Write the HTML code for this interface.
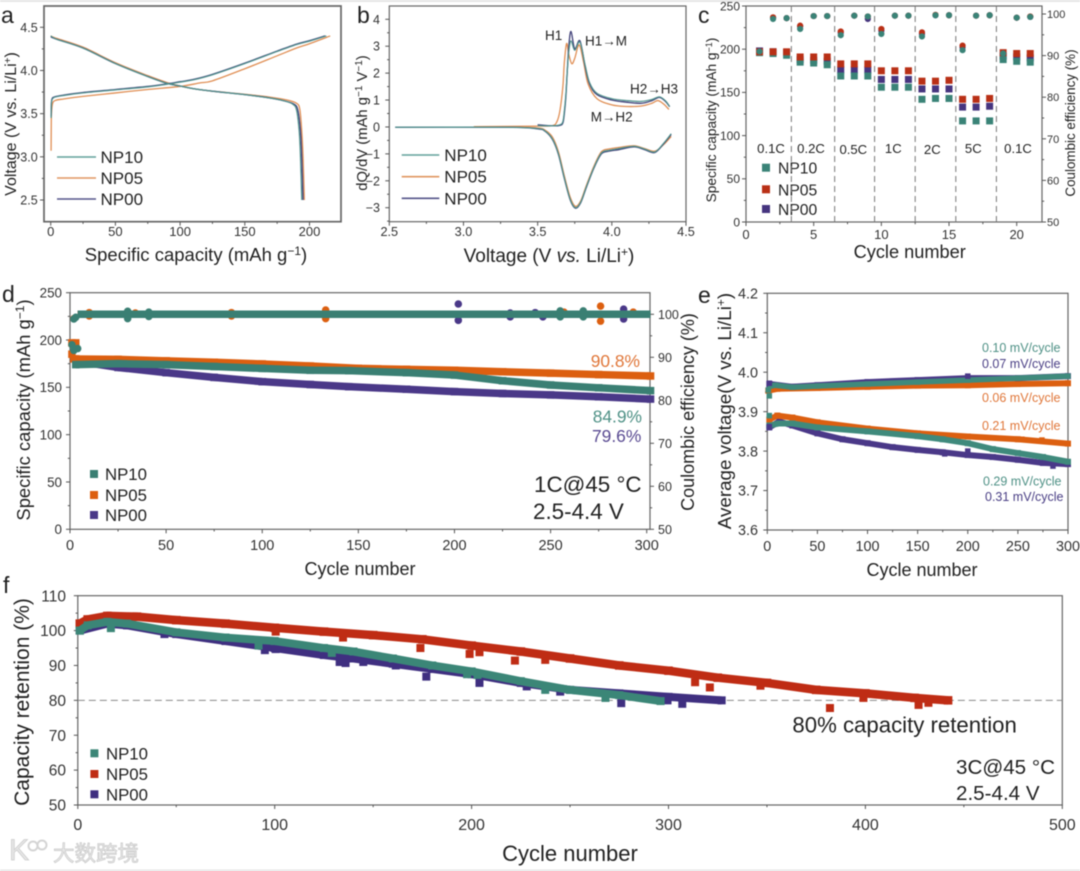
<!DOCTYPE html>
<html>
<head>
<meta charset="utf-8">
<title>Battery electrochemical performance panels</title>
<style>
html,body{margin:0;padding:0;background:#fff;}
svg{display:block;font-family:"Liberation Sans","Noto Sans CJK SC",sans-serif;filter:blur(0.45px);}
text{fill:#222;}
</style>
</head>
<body>
<svg id="figure" xmlns="http://www.w3.org/2000/svg" width="1080" height="871" viewBox="0 0 1080 871">
<rect x="0" y="0" width="1080" height="871" fill="#fff"/>
<rect x="0" y="0" width="1080" height="2" fill="#e6e6e6"/>
<rect x="0" y="869.5" width="1080" height="1.5" fill="#e6e6e6"/>

<g id="panel-a">
  <text x="1" y="23" font-size="23">a</text>
  <text transform="rotate(-90 16 124)" x="16" y="124" text-anchor="middle" font-size="16">Voltage (V vs. Li/Li<tspan dy="-5" font-size="10">+</tspan><tspan dy="5">)</tspan></text>
  <text x="196" y="261" text-anchor="middle" font-size="18.5">Specific capacity (mAh g<tspan dy="-6" font-size="12">−1</tspan><tspan dy="6">)</tspan></text>
  <g>
    <line x1="57" x2="96" y1="157" y2="157" stroke="#62a09a" stroke-width="1.6"/>
    <text x="100.5" y="163" font-size="17">NP10</text>
    <line x1="57" x2="96" y1="178" y2="178" stroke="#e09660" stroke-width="1.6"/>
    <text x="100.5" y="184" font-size="17">NP05</text>
    <line x1="57" x2="96" y1="199" y2="199" stroke="#55558a" stroke-width="1.6"/>
    <text x="100.5" y="205" font-size="17">NP00</text>
  </g>
</g>

<g id="panel-b">
  <text x="357" y="23" font-size="23">b</text>
  <text transform="rotate(-90 367 123)" x="367" y="123" text-anchor="middle" font-size="14.8">dQ/dV (mAh g<tspan dy="-5" font-size="10">−1</tspan><tspan dy="5"> V</tspan><tspan dy="-5" font-size="10">−1</tspan><tspan dy="5">)</tspan></text>
  <text x="549" y="262" text-anchor="middle" font-size="19">Voltage (V <tspan font-style="italic">vs.</tspan> Li/Li<tspan dy="-6" font-size="12">+</tspan><tspan dy="6">)</tspan></text>
  <text x="545" y="40" font-size="13.5">H1</text>
  <text x="585" y="45.7" font-size="13.5">H1→M</text>
  <text x="630" y="93.3" font-size="13.5">H2→H3</text>
  <text x="590.7" y="121.7" font-size="13.5">M→H2</text>
  <g>
    <line x1="401.7" x2="439.3" y1="155" y2="155" stroke="#62a09a" stroke-width="1.6"/>
    <text x="444.3" y="161" font-size="17">NP10</text>
    <line x1="401.7" x2="439.3" y1="176.7" y2="176.7" stroke="#e09660" stroke-width="1.6"/>
    <text x="444.3" y="182.7" font-size="17">NP05</text>
    <line x1="401.7" x2="439.3" y1="198.3" y2="198.3" stroke="#55558a" stroke-width="1.6"/>
    <text x="444.3" y="204.3" font-size="17">NP00</text>
  </g>
</g>

<g id="panel-c">
  <text x="698" y="23" font-size="23">c</text>
  <text transform="rotate(-90 716 120)" x="716" y="120" text-anchor="middle" font-size="13.7">Specific capacity (mAh g<tspan dy="-4" font-size="9">−1</tspan><tspan dy="4">)</tspan></text>
  <text transform="rotate(-90 1075 123)" x="1075" y="123" text-anchor="middle" font-size="13.4">Coulombic efficiency (%)</text>
  <text x="909.7" y="258" text-anchor="middle" font-size="18.2">Cycle number</text>
  <g font-size="13.1" text-anchor="middle">
    <text x="771" y="153">0.1C</text>
    <text x="811" y="153">0.2C</text>
    <text x="853.3" y="154">0.5C</text>
    <text x="893.3" y="153">1C</text>
    <text x="932.3" y="154">2C</text>
    <text x="973.3" y="153">5C</text>
    <text x="1018" y="153">0.1C</text>
  </g>
  <g>
    <rect x="762" y="163.7" width="8" height="8" fill="#3a8377"/>
    <text x="778" y="173.7" font-size="15.7">NP10</text>
    <rect x="762" y="185.3" width="8" height="8" fill="#b93016"/>
    <text x="778" y="195.3" font-size="15.7">NP05</text>
    <rect x="762" y="205" width="8" height="8" fill="#46357f"/>
    <text x="778" y="215" font-size="15.7">NP00</text>
  </g>
</g>

<g id="panel-d">
  <text x="2" y="302" font-size="23">d</text>
  <text transform="rotate(-90 30 410)" x="30" y="410" text-anchor="middle" font-size="18.4">Specific capacity (mAh g<tspan dy="-6" font-size="12">−1</tspan><tspan dy="6">)</tspan></text>
  <text transform="rotate(-90 694 412)" x="694" y="412" text-anchor="middle" font-size="18">Coulombic efficiency (%)</text>
  <text x="360" y="575" text-anchor="middle" font-size="18">Cycle number</text>
  <text x="590.7" y="367" font-size="17.4" style="fill:#e0773a">90.8%</text>
  <text x="592.7" y="422.7" font-size="17.4" style="fill:#4f9186">84.9%</text>
  <text x="592" y="442" font-size="17.4" style="fill:#5a4b92">79.6%</text>
  <text x="534" y="492" font-size="22.4">1C@45 °C</text>
  <text x="533" y="519" font-size="22.4">2.5-4.4 V</text>
  <g>
    <rect x="90" y="470" width="8" height="8" fill="#3a7f73"/>
    <text x="105" y="480" font-size="16.8">NP10</text>
    <rect x="90" y="491" width="8" height="8" fill="#dc5f10"/>
    <text x="105" y="501" font-size="16.8">NP05</text>
    <rect x="90" y="511" width="8" height="8" fill="#4a3888"/>
    <text x="105" y="521" font-size="16.8">NP00</text>
  </g>
</g>

<g id="panel-e">
  <text x="698" y="303" font-size="23">e</text>
  <text transform="rotate(-90 731 411)" x="731" y="411" text-anchor="middle" font-size="18.8">Average voltage(V vs. Li/Li<tspan dy="-6" font-size="12">+</tspan><tspan dy="6">)</tspan></text>
  <text x="922" y="576" text-anchor="middle" font-size="18">Cycle number</text>
  <g font-size="12.5">
    <text x="982" y="352" style="fill:#4f9186">0.10 mV/cycle</text>
    <text x="982" y="368" style="fill:#4a3f85">0.07 mV/cycle</text>
    <text x="982" y="402" style="fill:#e0773a">0.06 mV/cycle</text>
    <text x="982" y="430" style="fill:#e0773a">0.21 mV/cycle</text>
    <text x="983" y="485.7" style="fill:#4f9186">0.29 mV/cycle</text>
    <text x="985" y="501" style="fill:#4a3f85">0.31 mV/cycle</text>
  </g>
</g>

<g id="panel-f">
  <text x="3" y="593" font-size="23">f</text>
  <text transform="rotate(-90 29 702)" x="29" y="702" text-anchor="middle" font-size="21">Capacity retention (%)</text>
  <text x="570" y="861" text-anchor="middle" font-size="22">Cycle number</text>
  <text x="792.4" y="732.7" font-size="22.2">80% capacity retention</text>
  <text x="956" y="774" font-size="20.6">3C@45 °C</text>
  <text x="956" y="800" font-size="20.6">2.5-4.4 V</text>
  <g>
    <rect x="90.4" y="749.3" width="8" height="8" fill="#3b8677"/>
    <text x="106" y="759.3" font-size="16.8">NP10</text>
    <rect x="90.4" y="770" width="8" height="8" fill="#bf2c14"/>
    <text x="106" y="780" font-size="16.8">NP05</text>
    <rect x="90.4" y="790.3" width="8" height="8" fill="#3f2f80"/>
    <text x="106" y="800.3" font-size="16.8">NP00</text>
  </g>
</g>

<g opacity="0.9">
  <text x="9" y="860" font-size="30" style="fill:#e4e4e4;stroke:#c8c8c8;stroke-width:0.8">K</text>
  <circle cx="33" cy="846" r="4.5" fill="none" stroke="#d0d0d0" stroke-width="2"/>
  <circle cx="42" cy="845" r="4.5" fill="none" stroke="#d0d0d0" stroke-width="2"/>
  <text x="53" y="861" font-size="21.5" style="fill:#e8e8e8;stroke:#c4c4c4;stroke-width:0.7;font-family:'Liberation Sans','Noto Sans CJK SC',sans-serif">大数跨境</text>
</g>
</svg>

<script>
// ---------- Panel a: charge / discharge profiles ----------
const aCapCharge10 = [0.3,0.5,1,3,10,25,50,75,90,100,110,125,150,175,190,200,213];
const aVCharge10   = [3.45,3.6,3.66,3.69,3.71,3.74,3.775,3.81,3.84,3.865,3.89,3.95,4.08,4.22,4.30,4.34,4.40];
const aCapCharge05 = [0.3,0.4,0.6,1.5,4,10,25,50,75,100,115,125,150,175,190,200,216];
const aVCharge05   = [3.07,3.3,3.5,3.62,3.655,3.67,3.7,3.74,3.78,3.815,3.855,3.88,4.02,4.17,4.26,4.31,4.40];
const aCapCharge00 = [0.3,0.5,1,3,10,25,50,75,90,100,110,125,150,175,190,200,212];
const aVCharge00   = [3.47,3.6,3.67,3.695,3.715,3.745,3.78,3.815,3.845,3.87,3.895,3.955,4.085,4.225,4.305,4.345,4.40];
const aCapDis10 = [0,5,25,50,75,90,100,110,125,150,170,180,187,190,192,193,194];
const aVDis10   = [4.40,4.36,4.26,4.08,3.93,3.85,3.82,3.79,3.76,3.72,3.68,3.65,3.61,3.54,3.3,3.0,2.5];
const aCapDis05 = [0,5,25,50,75,90,100,110,125,150,170,182,190,192.5,194,195,196];
const aVDis05   = [4.40,4.37,4.27,4.09,3.94,3.86,3.82,3.79,3.76,3.725,3.69,3.66,3.62,3.55,3.3,3.0,2.5];
const aCapDis00 = [0,5,25,50,75,90,100,110,125,150,170,180,188,191,193,194,195];
const aVDis00   = [4.39,4.36,4.26,4.08,3.93,3.85,3.82,3.79,3.76,3.72,3.68,3.65,3.61,3.54,3.3,3.0,2.5];
const aXTicks = [0,50,100,150,200];
const aXTickLabels = ['0','50','100','150','200'];
const aXMinor = [25,75,125,175];
const aYTicks = [2.5,3.0,3.5,4.0,4.5];
const aYTickLabels = ['2.5','3.0','3.5','4.0','4.5'];
const aYMinor = [2.75,3.25,3.75,4.25];

// ---------- Panel b: dQ/dV curves ----------
const bVAnodic10 = [3.5,3.6,3.65,3.67,3.68,3.69,3.70,3.71,3.725,3.75,3.785,3.82,3.85,3.9,4.0,4.1,4.2,4.27,4.32,4.36,4.39];
const bQAnodic10 = [0.05,0.04,0.08,0.2,0.6,1.2,2.1,2.8,3.2,2.85,3.15,2.3,1.65,1.25,1.05,0.98,0.95,1.02,1.12,0.98,0.76];
const bVAnodic05 = [3.07,3.5,3.6,3.63,3.65,3.67,3.68,3.695,3.71,3.73,3.75,3.78,3.81,3.84,3.9,4.0,4.1,4.2,4.27,4.31,4.35,4.385];
const bQAnodic05 = [0.01,0.03,0.05,0.2,0.6,1.5,2.4,3.1,2.7,2.35,2.55,3.05,2.4,1.6,1.05,0.82,0.76,0.78,0.88,0.98,0.85,0.65];
const bVAnodic00 = [3.5,3.6,3.65,3.67,3.68,3.69,3.70,3.71,3.725,3.75,3.785,3.82,3.85,3.9,4.0,4.1,4.2,4.27,4.32,4.36,4.39];
const bQAnodic00 = [0.08,0.04,0.06,0.15,0.5,1.1,2.1,3.0,3.55,2.9,3.2,2.25,1.6,1.2,1.0,0.92,0.88,0.98,1.1,0.96,0.75];
const bVCathodic10 = [4.4,4.35,4.29,4.22,4.15,4.05,3.98,3.93,3.88,3.83,3.79,3.755,3.72,3.68,3.64,3.6,3.55,3.5,3.3,2.54];
const bQCathodic10 = [-0.25,-0.6,-0.93,-0.82,-0.72,-0.8,-0.87,-0.97,-1.5,-2.2,-2.8,-3.0,-2.7,-1.9,-1.0,-0.45,-0.15,-0.06,-0.01,-0.01];
const bVCathodic05 = [4.4,4.35,4.29,4.22,4.15,4.05,3.98,3.93,3.88,3.83,3.79,3.755,3.72,3.68,3.64,3.6,3.55,3.5,3.3,3.07];
const bQCathodic05 = [-0.35,-0.65,-0.9,-0.8,-0.7,-0.76,-0.82,-0.92,-1.45,-2.15,-2.75,-2.95,-2.62,-1.82,-0.92,-0.38,-0.12,-0.04,0,0];
const bVCathodic00 = [4.4,4.35,4.29,4.22,4.15,4.05,3.98,3.93,3.88,3.83,3.79,3.755,3.72,3.68,3.64,3.6,3.55,3.5,3.3,2.54];
const bQCathodic00 = [-0.28,-0.62,-0.95,-0.84,-0.74,-0.84,-0.9,-1.0,-1.52,-2.22,-2.82,-3.02,-2.72,-1.92,-1.02,-0.47,-0.16,-0.07,-0.01,-0.01];
const bXTicks = [2.5,3.0,3.5,4.0,4.5];
const bXTickLabels = ['2.5','3.0','3.5','4.0','4.5'];
const bXMinor = [2.75,3.25,3.75,4.25];
const bYTicks = [-3,-2,-1,0,1,2,3,4];
const bYTickLabels = ['−3','−2','−1','0','1','2','3','4'];
const bYMinor = [-3.5,-2.5,-1.5,-0.5,0.5,1.5,2.5,3.5];

// ---------- Panel c: rate capability ----------
const cCycles = [1,2,3,4,5,6,7,8,9,10,11,12,13,14,15,16,17,18,19,20,21];
const cCap10 = [196,195,193,185,184,182,169,169,169,156,156,156,142,143,143,117,117,117,188,186,185];
const cCap05 = [197,197,197,191,191,191,183,183,183,175,175,175,163,163,164,142,142,143,196,195,195];
const cCap00 = [198,197,196,188,187,186,176,176,176,165,165,165,154,154,154,133,133,134,192,191,190];
const cCE10 = [91,98.8,99,96.4,99.5,99.5,94.9,99.6,99.4,95.2,99.6,99.6,94.6,99.7,99.7,91.3,99.6,99.7,90.5,99.1,99.3];
const cCE05 = [91,99.2,99,97.2,99.5,99.5,95.8,99.6,99.4,96.4,99.6,99.6,95.6,99.8,99.7,92.4,99.6,99.7,90.5,99.1,99.4];
const cCE00 = [91,99.1,99,97,99.5,99.5,95.5,99.6,98.8,96,99.6,99.6,95.2,99.7,99.7,92,99.6,99.7,90.5,99.1,99.3];
const cRateBoundaries = [3.35,6.55,9.5,12.5,15.5,18.5];
const cXTicks = [0,5,10,15,20];
const cXTickLabels = ['0','5','10','15','20'];
const cXMinor = [2.5,7.5,12.5,17.5];
const cYTicks = [0,50,100,150,200,250];
const cYTickLabels = ['0','50','100','150','200','250'];
const cYMinor = [25,75,125,175,225];
const cRTicks = [50,60,70,80,90,100];
const cRTickLabels = ['50','60','70','80','90','100'];
const cRMinor = [55,65,75,85,95];

// ---------- Panel d: long cycling at 1C ----------
const dCycles10 = [3,25,50,75,100,125,145,175,200,225,250,275,302];
const dCap10 = [174,175,174,172,170,168,167.6,165.5,163,157,152.5,149.5,146.5];
const dCycles05 = [3,25,50,75,100,125,150,175,200,225,250,275,302];
const dCap05 = [180,179.5,178,176.5,174.7,172.5,170,169,168,166.5,165,163.5,162];
const dCycles00 = [3,12,25,50,75,100,125,145,175,200,225,250,275,302];
const dCap00 = [175,175,171,165.5,160.5,156,153,150.7,148,145.5,143.5,142,140,137.6];
const dCeCycles = [4,50,100,150,200,250,302];
const dCE10 = [100,100,100,100,100,100,100];
const dCE05 = [100,100,100,100,100,100,100];
const dCE00 = [100,100,100,100,100,100,100];
const dFirstCycles10 = [1,2,4];
const dFirstCap10 = [195,189,191];
const dFirstCycles05 = [1,3,1,2];
const dFirstCap05 = [197,197,185,180];
const dOutCycles10 = [2,3,30,30,41,41,255,255,267,267];
const dOutCE10 = [98.9,99.3,100.7,99,100.5,99.5,100.8,99.4,100.8,99.4];
const dOutCycles05 = [2,10,10,34,84,84,133,133,257,276,276,293];
const dOutCE05 = [99,100.4,99.6,100.3,100.4,99.6,101,99,100.5,101.9,98.4,100.5];
const dOutCycles00 = [202,202,229,229,242,246,288,288];
const dOutCE00 = [102.4,98.6,100.3,99.4,100.4,99.4,101.2,98.9];
const dXTicks = [0,50,100,150,200,250,300];
const dXTickLabels = ['0','50','100','150','200','250','300'];
const dXMinor = [25,75,125,175,225,275];
const dYTicks = [0,50,100,150,200,250];
const dYTickLabels = ['0','50','100','150','200','250'];
const dYMinor = [25,75,125,175,225];
const dRTicks = [50,60,70,80,90,100];
const dRTickLabels = ['50','60','70','80','90','100'];
const dRMinor = [55,65,75,85,95];

// ---------- Panel e: average voltage ----------
const eUpCycles10 = [3,8,25,50,100,150,200,250,300];
const eUp10 = [3.965,3.967,3.962,3.965,3.97,3.975,3.98,3.985,3.99];
const eUpCycles05 = [1,10,50,100,150,200,250,300];
const eUp05 = [3.953,3.958,3.96,3.963,3.966,3.967,3.97,3.972];
const eUpCycles00 = [2,25,50,100,150,200,250,300];
const eUp00 = [3.97,3.963,3.967,3.975,3.98,3.985,3.985,3.99];
const eLowCycles10 = [2,12,25,50,100,150,175,200,225,250,275,300];
const eLow10 = [3.865,3.87,3.87,3.86,3.85,3.838,3.83,3.82,3.805,3.795,3.785,3.773];
const eLowCycles05 = [2,10,25,50,100,150,200,250,300];
const eLow05 = [3.88,3.89,3.885,3.873,3.857,3.845,3.837,3.83,3.819];
const eLowCycles00 = [2,12,25,50,75,100,125,150,175,200,225,250,275,300];
const eLow00 = [3.86,3.875,3.865,3.845,3.83,3.82,3.81,3.803,3.797,3.79,3.785,3.778,3.77,3.767];
const eOutCycles10 = [2,2,1];
const eOutV10 = [3.94,3.89,3.955];
const eOutCycles05 = [2,254,274];
const eOutV05 = [3.88,3.83,3.828];
const eOutCycles00 = [2,2,200,200,177,285];
const eOutV00 = [3.972,3.862,3.99,3.8,3.793,3.762];
const eXTicks = [0,50,100,150,200,250,300];
const eXTickLabels = ['0','50','100','150','200','250','300'];
const eXMinor = [25,75,125,175,225,275];
const eYTicks = [3.6,3.7,3.8,3.9,4.0,4.1,4.2];
const eYTickLabels = ['3.6','3.7','3.8','3.9','4.0','4.1','4.2'];
const eYMinor = [3.65,3.75,3.85,3.95,4.05,4.15];

// ---------- Panel f: capacity retention at 3C ----------
const fCycles10 = [1,5,15,25,50,75,100,125,140,160,180,200,225,250,275,296];
const fRet10 = [100,101.5,102.5,102,99.5,98,97,95,94,92,90,88.3,85.5,83,81.5,79.8];
const fCycles05 = [1,5,15,30,50,75,100,125,150,175,200,225,250,275,300,325,350,375,400,425,442];
const fRet05 = [102,103.2,104.2,104,103,102,100.8,99.7,98.7,97.5,95.7,94,92,90,88.5,86.5,85,83,82,80.7,80];
const fCycles00 = [1,15,25,50,75,100,125,140,160,180,200,225,250,275,300,327];
const fRet00 = [100,102,101.5,99,97,95,93,92,90.5,89,87.5,85,83,82,81,80];
const fOutCycles10 = [1,16.8,91.8,129,197.7,203,237.4,268];
const fOutRet10 = [100,100.7,95.7,93.6,87.5,87.3,83,80.7];
const fOutCycles05 = [100.5,134.7,174,199,204,222,237.4,313.5,321,346.7,382,399,427,432];
const fOutRet05 = [99.7,98,95,93.3,93.8,91.4,91.6,85.2,83.7,84.2,77.8,80.7,78.7,79.3];
const fOutCycles00 = [44,95,100.5,133,136,145,161.5,177,204,228,245,276,299.5,307];
const fOutRet00 = [99,94.4,94.7,91,90.7,91,90,86.8,85,84,82.5,79.2,80,79];
const fThreshold = [80];
const fXTicks = [0,100,200,300,400,500];
const fXTickLabels = ['0','100','200','300','400','500'];
const fXMinor = [50,150,250,350,450];
const fYTicks = [50,60,70,80,90,100,110];
const fYTickLabels = ['50','60','70','80','90','100','110'];
const fYMinor = [55,65,75,85,95,105];

// ---------- drawing helpers ----------
const SVGNS = 'http://www.w3.org/2000/svg';
function scale(d0, d1, r0, r1) {
  return function (v) { return r0 + (v - d0) * (r1 - r0) / (d1 - d0); };
}
function make(tag, parent, props) {
  const el = document.createElementNS(SVGNS, tag);
  for (const k in props) el.setAttribute(k, props[k]);
  parent.appendChild(el);
  return el;
}
function frame(parent, name, x0, y0, x1, y1, width) {
  const el = make('rect', parent, {x: x0, y: y0, width: x1 - x0, height: y1 - y0, fill: 'none', stroke: '#666', 'stroke-width': width});
  
  
}
function axis(parent, name, orient, sc, pos, major, labels, minor, opts) {
  const g = make('g', parent, {});
  
  
  const tickOf = function (v, len) {
    const p = sc(v);
    const props = {stroke: '#555', 'stroke-width': 1};
    if (orient === 'left') { props.x1 = pos; props.x2 = pos - len; props.y1 = p; props.y2 = p; }
    if (orient === 'right') { props.x1 = pos; props.x2 = pos + len; props.y1 = p; props.y2 = p; }
    if (orient === 'bottom') { props.x1 = p; props.x2 = p; props.y1 = pos; props.y2 = pos + len; }
    const t = make('line', g, props);
    
    
  };
  major.forEach(function (v, i) {
    tickOf(v, opts.len);
    const p = sc(v);
    const lp = {'font-size': opts.size};
    if (orient === 'left') { lp.x = opts.labelPos; lp.y = p + opts.size * 0.36; lp['text-anchor'] = 'end'; }
    if (orient === 'right') { lp.x = opts.labelPos; lp.y = p + opts.size * 0.36; lp['text-anchor'] = 'start'; }
    if (orient === 'bottom') { lp.x = p; lp.y = opts.labelPos; lp['text-anchor'] = 'middle'; }
    const t = make('text', g, lp);
    
    
    t.style.fill = '#333';
    t.textContent = labels[i];
  });
  minor.forEach(function (v) { tickOf(v, opts.len * 0.55); });
}
function smoothPath(pts) {
  let d = 'M' + pts[0][0].toFixed(2) + ' ' + pts[0][1].toFixed(2);
  for (let i = 0; i < pts.length - 1; i++) {
    const p0 = pts[Math.max(0, i - 1)], p1 = pts[i], p2 = pts[i + 1], p3 = pts[Math.min(pts.length - 1, i + 2)];
    const c1x = p1[0] + (p2[0] - p0[0]) / 6, c1y = p1[1] + (p2[1] - p0[1]) / 6;
    const c2x = p2[0] - (p3[0] - p1[0]) / 6, c2y = p2[1] - (p3[1] - p1[1]) / 6;
    d += 'C' + c1x.toFixed(2) + ' ' + c1y.toFixed(2) + ' ' + c2x.toFixed(2) + ' ' + c2y.toFixed(2) + ' ' + p2[0].toFixed(2) + ' ' + p2[1].toFixed(2);
  }
  return d;
}
function curve(parent, name, xs, ys, sx, sy, color, width) {
  const pts = xs.map(function (x, i) { return [sx(x), sy(ys[i])]; });
  const el = make('path', parent, {d: smoothPath(pts), fill: 'none', stroke: color, 'stroke-width': width, 'stroke-linejoin': 'round'});
  
  
}
function band(parent, name, xs, ys, sx, sy, color, width) {
  const pts = xs.map(function (x, i) { return sx(x) + ',' + sy(ys[i]); }).join(' ');
  const el = make('polyline', parent, {points: pts, fill: 'none', stroke: color, 'stroke-width': width, 'stroke-linejoin': 'round'});
  
  
}
function squares(parent, name, xs, ys, sx, sy, color, size) {
  xs.forEach(function (x, i) {
    const el = make('rect', parent, {x: sx(x) - size / 2, y: sy(ys[i]) - size / 2, width: size, height: size, fill: color});
    
    
  });
}
function circles(parent, name, xs, ys, sx, sy, color, size) {
  xs.forEach(function (x, i) {
    const el = make('circle', parent, {cx: sx(x), cy: sy(ys[i]), r: size / 2, fill: color});
    
    
  });
}

const C_TEAL_LINE = '#4f918c', C_ORANGE_LINE = '#e08f55', C_NAVY_LINE = '#3f3f78';

// ---------- Panel a ----------
(function () {
  const root = document.getElementById('panel-a');
  const x = scale(0, 200, 50.7, 309.5), y = scale(2.5, 4.5, 200, 27.3);
  frame(root, 'a-plot-frame', 44, 6, 341, 221.7, 1.7);
  axis(root, 'a-x-axis', 'bottom', x, 221.7, aXTicks, aXTickLabels, aXMinor, {len: 4, size: 13, labelPos: 236});
  axis(root, 'a-y-axis', 'left', y, 44, aYTicks, aYTickLabels, aYMinor, {len: 4, size: 12.5, labelPos: 37.7});
  curve(root, 'a-charge-np05', aCapCharge05, aVCharge05, x, y, C_ORANGE_LINE, 1.3);
  curve(root, 'a-discharge-np05', aCapDis05, aVDis05, x, y, C_ORANGE_LINE, 1.3);
  curve(root, 'a-charge-np00', aCapCharge00, aVCharge00, x, y, C_NAVY_LINE, 1.3);
  curve(root, 'a-discharge-np00', aCapDis00, aVDis00, x, y, C_NAVY_LINE, 1.3);
  curve(root, 'a-charge-np10', aCapCharge10, aVCharge10, x, y, C_TEAL_LINE, 1.2);
  curve(root, 'a-discharge-np10', aCapDis10, aVDis10, x, y, C_TEAL_LINE, 1.2);
})();

// ---------- Panel b ----------
(function () {
  const root = document.getElementById('panel-b');
  const x = scale(2.5, 4.5, 389.3, 686), y = scale(-3, 4, 207.7, 19.3);
  frame(root, 'b-plot-frame', 389.3, 6, 686, 221.7, 1.2);
  axis(root, 'b-x-axis', 'bottom', x, 221.7, bXTicks, bXTickLabels, bXMinor, {len: 4, size: 12.7, labelPos: 236});
  axis(root, 'b-y-axis', 'left', y, 389.3, bYTicks, bYTickLabels, bYMinor, {len: 4, size: 12.5, labelPos: 380});
  curve(root, 'b-anodic-np05', bVAnodic05, bQAnodic05, x, y, C_ORANGE_LINE, 1.3);
  curve(root, 'b-cathodic-np05', bVCathodic05, bQCathodic05, x, y, C_ORANGE_LINE, 1.3);
  curve(root, 'b-anodic-np00', bVAnodic00, bQAnodic00, x, y, C_NAVY_LINE, 1.3);
  curve(root, 'b-cathodic-np00', bVCathodic00, bQCathodic00, x, y, C_NAVY_LINE, 1.3);
  curve(root, 'b-anodic-np10', bVAnodic10, bQAnodic10, x, y, C_TEAL_LINE, 1.2);
  curve(root, 'b-cathodic-np10', bVCathodic10, bQCathodic10, x, y, C_TEAL_LINE, 1.2);
})();

// ---------- Panel c ----------
(function () {
  const root = document.getElementById('panel-c');
  const x = scale(0, 20, 746, 1016.7), y = scale(0, 250, 222, 6), yr = scale(50, 100, 222, 14);
  frame(root, 'c-plot-frame', 746, 6, 1042, 222, 1.2);
  axis(root, 'c-x-axis', 'bottom', x, 222, cXTicks, cXTickLabels, cXMinor, {len: 4, size: 13, labelPos: 239});
  axis(root, 'c-y-axis', 'left', y, 746, cYTicks, cYTickLabels, cYMinor, {len: 4, size: 12, labelPos: 740});
  axis(root, 'c-right-axis', 'right', yr, 1042, cRTicks, cRTickLabels, cRMinor, {len: 4, size: 11, labelPos: 1047});
  cRateBoundaries.forEach(function (v) {
    const el = make('line', root, {x1: x(v), x2: x(v), y1: 6, y2: 222, stroke: '#777', 'stroke-width': 1, 'stroke-dasharray': '6 4'});
    
    
  });
  squares(root, 'c-capacity-np00', cCycles, cCap00, x, y, '#46357f', 7);
  squares(root, 'c-capacity-np10', cCycles, cCap10, x, y, '#3a8377', 7);
  squares(root, 'c-capacity-np05', cCycles, cCap05, x, y, '#b93016', 7);
  circles(root, 'c-efficiency-np00', cCycles, cCE00, x, yr, '#46357f', 6.2);
  circles(root, 'c-efficiency-np05', cCycles, cCE05, x, yr, '#b93016', 6.2);
  circles(root, 'c-efficiency-np10', cCycles, cCE10, x, yr, '#3a8377', 6.2);
})();

// ---------- Panel d ----------
(function () {
  const root = document.getElementById('panel-d');
  const x = scale(0, 300, 70, 646.7), y = scale(0, 250, 529.3, 292.7), yr = scale(50, 100, 529.3, 314.3);
  const teal = '#3a7f73', orange = '#dc5f10', navy = '#4a3888';
  frame(root, 'd-plot-frame', 70, 292.7, 650, 529.3, 1.2);
  axis(root, 'd-x-axis', 'bottom', x, 529.3, dXTicks, dXTickLabels, dXMinor, {len: 4, size: 14.5, labelPos: 550});
  axis(root, 'd-y-axis', 'left', y, 70, dYTicks, dYTickLabels, dYMinor, {len: 4, size: 13.4, labelPos: 62});
  axis(root, 'd-right-axis', 'right', yr, 650, dRTicks, dRTickLabels, dRMinor, {len: 4, size: 12.5, labelPos: 658});
  band(root, 'd-capacity-np00', dCycles00, dCap00, x, y, navy, 7.5);
  squares(root, 'd-capacity-points-np00', dCycles00, dCap00, x, y, navy, 7.5);
  band(root, 'd-capacity-np05', dCycles05, dCap05, x, y, orange, 7.5);
  squares(root, 'd-capacity-points-np05', dCycles05, dCap05, x, y, orange, 7.5);
  squares(root, 'd-first-cycles-np05', dFirstCycles05, dFirstCap05, x, y, orange, 7.5);
  band(root, 'd-capacity-np10', dCycles10, dCap10, x, y, teal, 7.5);
  squares(root, 'd-capacity-points-np10', dCycles10, dCap10, x, y, teal, 7.5);
  circles(root, 'd-first-cycles-np10', dFirstCycles10, dFirstCap10, x, y, teal, 7.5);
  band(root, 'd-efficiency-np00', dCeCycles, dCE00, x, yr, navy, 7.5);
  circles(root, 'd-efficiency-outlier-np00', dOutCycles00, dOutCE00, x, yr, navy, 7.5);
  band(root, 'd-efficiency-np05', dCeCycles, dCE05, x, yr, orange, 7.5);
  circles(root, 'd-efficiency-outlier-np05', dOutCycles05, dOutCE05, x, yr, orange, 7.5);
  band(root, 'd-efficiency-np10', dCeCycles, dCE10, x, yr, teal, 7.5);
  circles(root, 'd-efficiency-outlier-np10', dOutCycles10, dOutCE10, x, yr, teal, 7.5);
})();

// ---------- Panel e ----------
(function () {
  const root = document.getElementById('panel-e');
  const x = scale(0, 300, 767.3, 1068), y = scale(3.6, 4.2, 530, 293.3);
  const teal = '#3f8a7c', orange = '#dc5f10', navy = '#4a3888';
  frame(root, 'e-plot-frame', 767.3, 293.3, 1068, 530, 1.2);
  axis(root, 'e-x-axis', 'bottom', x, 530, eXTicks, eXTickLabels, eXMinor, {len: 4, size: 14.4, labelPos: 551});
  axis(root, 'e-y-axis', 'left', y, 767.3, eYTicks, eYTickLabels, eYMinor, {len: 4, size: 14.4, labelPos: 758});
  band(root, 'e-lower-np00', eLowCycles00, eLow00, x, y, navy, 6);
  squares(root, 'e-lower-points-np00', eLowCycles00, eLow00, x, y, navy, 6);
  band(root, 'e-lower-np05', eLowCycles05, eLow05, x, y, orange, 6);
  squares(root, 'e-lower-points-np05', eLowCycles05, eLow05, x, y, orange, 6);
  band(root, 'e-lower-np10', eLowCycles10, eLow10, x, y, teal, 6);
  squares(root, 'e-lower-points-np10', eLowCycles10, eLow10, x, y, teal, 6);
  band(root, 'e-upper-np05', eUpCycles05, eUp05, x, y, orange, 6);
  squares(root, 'e-upper-points-np05', eUpCycles05, eUp05, x, y, orange, 6);
  band(root, 'e-upper-np00', eUpCycles00, eUp00, x, y, navy, 6);
  squares(root, 'e-upper-points-np00', eUpCycles00, eUp00, x, y, navy, 6);
  band(root, 'e-upper-np10', eUpCycles10, eUp10, x, y, teal, 5.5);
  squares(root, 'e-upper-points-np10', eUpCycles10, eUp10, x, y, teal, 5.5);
  squares(root, 'e-outlier-np05', eOutCycles05, eOutV05, x, y, orange, 5.5);
  squares(root, 'e-outlier-np00', eOutCycles00, eOutV00, x, y, navy, 5.5);
  squares(root, 'e-outlier-np10', eOutCycles10, eOutV10, x, y, teal, 5.5);
})();

// ---------- Panel f ----------
(function () {
  const root = document.getElementById('panel-f');
  const x = scale(0, 500, 77.8, 1062.3), y = scale(50, 110, 805, 595.7);
  const teal = '#3b8677', red = '#bf2c14', navy = '#3f2f80';
  frame(root, 'f-plot-frame', 77.8, 595.7, 1062.3, 805, 1.2);
  axis(root, 'f-x-axis', 'bottom', x, 805, fXTicks, fXTickLabels, fXMinor, {len: 4, size: 16, labelPos: 830});
  axis(root, 'f-y-axis', 'left', y, 77.8, fYTicks, fYTickLabels, fYMinor, {len: 4, size: 15.5, labelPos: 66});
  const dash = make('line', root, {x1: 77.8, x2: 1062.3, y1: y(fThreshold[0]), y2: y(fThreshold[0]), stroke: '#888', 'stroke-width': 1, 'stroke-dasharray': '7 4'});
  
  
  band(root, 'f-retention-np00', fCycles00, fRet00, x, y, navy, 8);
  squares(root, 'f-retention-points-np00', fCycles00, fRet00, x, y, navy, 8);
  squares(root, 'f-outlier-np00', fOutCycles00, fOutRet00, x, y, navy, 8);
  band(root, 'f-retention-np05', fCycles05, fRet05, x, y, red, 8.5);
  squares(root, 'f-retention-points-np05', fCycles05, fRet05, x, y, red, 8.5);
  squares(root, 'f-outlier-np05', fOutCycles05, fOutRet05, x, y, red, 8);
  band(root, 'f-retention-np10', fCycles10, fRet10, x, y, teal, 8);
  squares(root, 'f-retention-points-np10', fCycles10, fRet10, x, y, teal, 8);
  squares(root, 'f-outlier-np10', fOutCycles10, fOutRet10, x, y, teal, 8);
})();
</script>
</body>
</html>
